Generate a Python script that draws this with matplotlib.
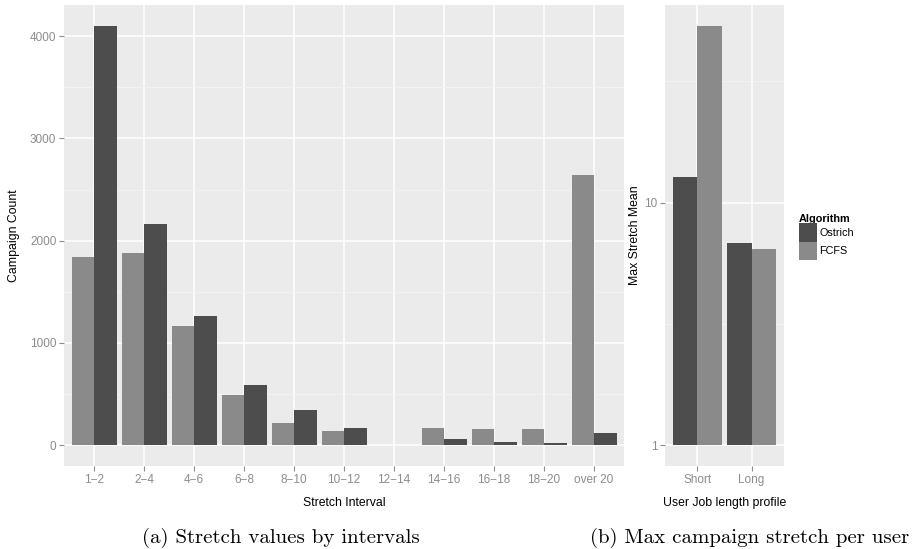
import numpy as np
import matplotlib
matplotlib.use("Agg")
import matplotlib.pyplot as plt
from matplotlib.ticker import FixedLocator, NullFormatter

# ---- data ----
intervals = ["1\u22122", "2\u22124", "4\u22126", "6\u22128", "8\u221210", "10\u221212",
             "12\u221214", "14\u221216", "16\u221218", "18\u221220", "over 20"]
fcfs_counts = [1843, 1882, 1167, 490, 216, 137, 0, 167, 157, 157, 2637]
ostrich_counts = [4100, 2167, 1265, 588, 343, 167, 0, 59, 29, 20, 118]

profiles = ["Short", "Long"]
ostrich_stretch = [12.8, 6.84]
fcfs_stretch = [53.5, 6.41]

series_names = ["Ostrich", "FCFS"]
left_yticks = [0, 1000, 2000, 3000, 4000]
left_yminor = [500, 1500, 2500, 3500]
right_yticks = [1, 10]
right_yminor = [10 ** 0.5, 10 ** 1.5]

# ---- style ----
DARK = "#4D4D4D"
LIGHT = "#8A8A8A"
BG = "#EBEBEB"
TICKC = "#8C8C8C"
SANS = ["Liberation Sans", "DejaVu Sans"]
plt.rcParams["font.family"] = SANS

W, H = 915, 549
fig = plt.figure(figsize=(W / 100, H / 100), dpi=100)


def frac(x0, y0, x1, y1):
    return [x0 / W, 1 - y1 / H, (x1 - x0) / W, (y1 - y0) / H]


def style_axes(ax):
    ax.set_facecolor(BG)
    for s in ax.spines.values():
        s.set_visible(False)
    ax.set_axisbelow(True)
    ax.tick_params(axis="both", which="major", length=3.5, width=0.8,
                   color=TICKC, labelcolor=TICKC, labelsize=8.5, pad=2)
    ax.tick_params(axis="both", which="minor", length=0)
    ax.grid(True, which="major", color="white", linewidth=1.1)
    ax.grid(True, which="minor", axis="y", color="#F4F4F4", linewidth=0.6)


# ---- left panel ----
axL = fig.add_axes(frac(64, 5, 624, 466))
style_axes(axL)
x = np.arange(len(intervals))
bw = 0.45
axL.bar(x - bw / 2, fcfs_counts, width=bw, color=LIGHT, linewidth=0)
axL.bar(x + bw / 2, ostrich_counts, width=bw, color=DARK, linewidth=0)
ymax = max(max(fcfs_counts), max(ostrich_counts))
axL.set_ylim(-0.05 * ymax, 1.05 * ymax)
axL.set_xlim(-0.6, len(intervals) - 1 + 0.6)
axL.set_xticks(x)
axL.set_xticklabels(intervals)
axL.set_yticks(left_yticks)
axL.yaxis.set_minor_locator(FixedLocator(left_yminor))
axL.xaxis.grid(True, which="major", color="white", linewidth=1.1)
axL.set_xlabel("Stretch Interval", fontsize=8.8, labelpad=8)
axL.set_ylabel("Campaign Count", fontsize=8.8, labelpad=7)

# ---- right panel ----
axR = fig.add_axes(frac(665, 5, 784, 466))
style_axes(axR)
axR.set_yscale("log")
xr = np.arange(len(profiles))
bo = axR.bar(xr - bw / 2, [v - 1 for v in ostrich_stretch], bottom=1, width=bw,
             color=DARK, linewidth=0, label=series_names[0])
bf = axR.bar(xr + bw / 2, [v - 1 for v in fcfs_stretch], bottom=1, width=bw,
             color=LIGHT, linewidth=0, label=series_names[1])
lmax = np.log10(max(max(ostrich_stretch), max(fcfs_stretch)))
axR.set_ylim(10 ** (-0.05 * lmax), 10 ** (1.05 * lmax))
axR.set_xlim(-0.6, len(profiles) - 1 + 0.6)
axR.set_xticks(xr)
axR.set_xticklabels(profiles)
axR.yaxis.set_major_locator(FixedLocator(right_yticks))
axR.set_yticklabels([str(v) for v in right_yticks])
axR.yaxis.set_minor_locator(FixedLocator(right_yminor))
axR.yaxis.set_minor_formatter(NullFormatter())
axR.set_xlabel("User Job length profile", fontsize=8.8, labelpad=8)
axR.set_ylabel("Max Stretch Mean", fontsize=8.8, labelpad=2)

# ---- legend ----
leg = fig.legend(handles=[bo, bf], labels=series_names, title="Algorithm",
                 loc="upper left", bbox_to_anchor=(798.5 / W, 1 - 213.5 / H),
                 frameon=False, fontsize=7.8, handlelength=1.7, handleheight=2.2,
                 handletextpad=0.2, labelspacing=0.0, borderaxespad=0, borderpad=0,
                 alignment="left")
leg.get_title().set_fontweight("bold")
leg.get_title().set_fontsize(7.8)

# ---- captions ----
fig.text(281 / W, 1 - 537.5 / H, "(a) Stretch values by intervals", family="cmr10",
         fontsize=15, ha="center", va="center")
fig.text(750 / W, 1 - 537.5 / H, "(b) Max campaign stretch per user", family="cmr10",
         fontsize=15, ha="center", va="center")

fig.savefig("out.png", dpi=100)
